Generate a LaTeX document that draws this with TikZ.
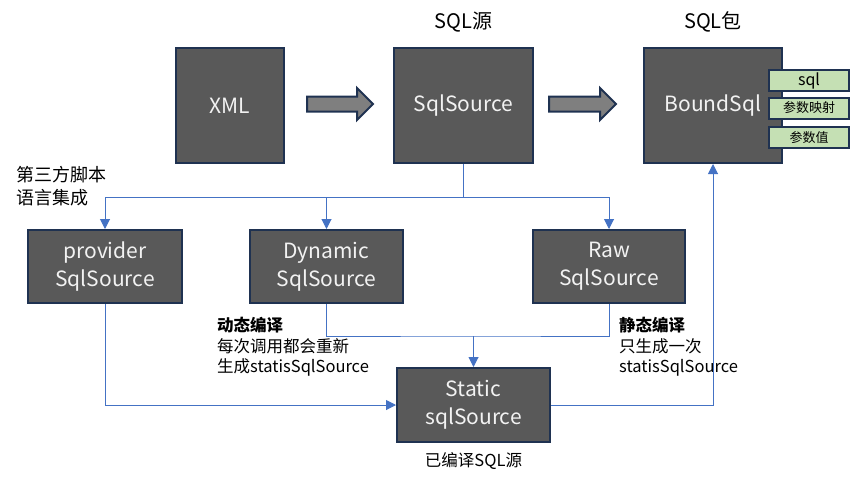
\documentclass[tikz,border=0pt]{standalone}
\usepackage{fontspec}
\setmainfont{Noto Sans CJK SC}
\usetikzlibrary{arrows.meta}
\definecolor{boxfill}{HTML}{595959}
\definecolor{boxline}{HTML}{1F3251}
\definecolor{boxtext}{HTML}{F2F2F2}
\definecolor{arrowfill}{HTML}{7F7F7F}
\definecolor{tagfill}{HTML}{C5E0B4}
\definecolor{linkblue}{HTML}{4472C4}
\tikzset{
	block/.style={draw=boxline, line width=2pt, fill=boxfill, text=boxtext, align=center, inner sep=0pt, font=\fontsize{21}{28}\selectfont},
	tag/.style={draw=boxline, line width=2pt, fill=tagfill, minimum width=80pt, minimum height=21pt, inner sep=0pt, font=\fontsize{13}{15}\selectfont},
	bigarrow/.style={draw=boxline, line width=2pt, fill=arrowfill, line join=miter},
	link/.style={draw=linkblue, line width=1pt},
	note/.style={align=left, inner sep=0pt, anchor=north west, font=\fontsize{16.5}{20.5}\selectfont}
}

\begin{document}
\begin{tikzpicture}[x=1pt, y=-1pt]
		\useasboundingbox (0,0) rectangle (858,480);

		\node (xml)[block, minimum width=108pt, minimum height=115pt] at (230,105.5) {XML};
		\node (sqlsrc)[block, minimum width=139pt, minimum height=115pt] at (463.5,105.5) {SqlSource};
		\node (bound)[block, minimum width=138pt, minimum height=115pt] at (713,105.5) {BoundSql};
		\node (sqltag)[tag, font=\fontsize{16}{18}\selectfont] at (809,80.5) {sql};
		\node (maptag)[tag] at (809,108) {参数映射};
		\node (valtag)[tag] at (809,137.5) {参数值};

		\node (provider)[block, minimum width=154pt, minimum height=73pt] at (105,266.5) {provider\\SqlSource};
		\node (dynamic)[block, minimum width=153pt, minimum height=73pt] at (326.5,266.5) {Dynamic\\SqlSource};
		\node (raw)[block, minimum width=152pt, minimum height=73pt] at (609,266.5) {Raw\\SqlSource};
		\node (static)[block, minimum width=153pt, minimum height=74pt] at (473.5,405) {Static\\sqlSource};

		\draw [bigarrow](307,96.5) -- (357,96.5) -- (357,88) -- (373,104) -- (357,120) -- (357,111.5) -- (307,111.5) -- cycle;
		\draw [bigarrow](549,96.5) -- (600,96.5) -- (600,88) -- (616,104) -- (600,120) -- (600,111.5) -- (549,111.5) -- cycle;

		\node (srclabel)[font=\fontsize{20}{24}\selectfont] at (463.5,22) {SQL源};
		\node (boundlabel)[font=\fontsize{20}{24}\selectfont] at (713,22) {SQL包};
		\node (thirdparty)[note, font=\fontsize{18}{23}\selectfont] at (16,166) {第三方脚本\\语言集成};
		\node (dynnote)[note] at (217,317) {\textbf{动态编译}\\每次调用都会重新\\生成statisSqlSource};
		\node (rawnote)[note] at (619,317) {\textbf{静态编译}\\只生成一次\\statisSqlSource};
		\node (staticlabel)[font=\fontsize{16.5}{20}\selectfont] at (473.5,461) {已编译SQL源};

		\coordinate (split) at (463.5,197);
		\coordinate (merge) at (473.5,336);
		\draw [link](sqlsrc.south) -- (split);
		\draw [link, -{Triangle[length=10pt,width=10pt]}](split) -| (provider.north);
		\draw [link, -{Triangle[length=10pt,width=10pt]}](split) -| (dynamic.north);
		\draw [link, -{Triangle[length=10pt,width=10pt]}](split) -| (raw.north);
		\draw [link](dynamic.south) |- (merge) -| (raw.south);
		\draw [link, -{Triangle[length=10pt,width=10pt]}](merge) -- (static.north);
		\draw [link, -{Triangle[length=10pt,width=10pt]}](provider.south) |- (static.west);
		\draw [link, -{Triangle[length=10pt,width=10pt]}](static.east) -| (bound.south);
		\end{tikzpicture}
\end{document}
